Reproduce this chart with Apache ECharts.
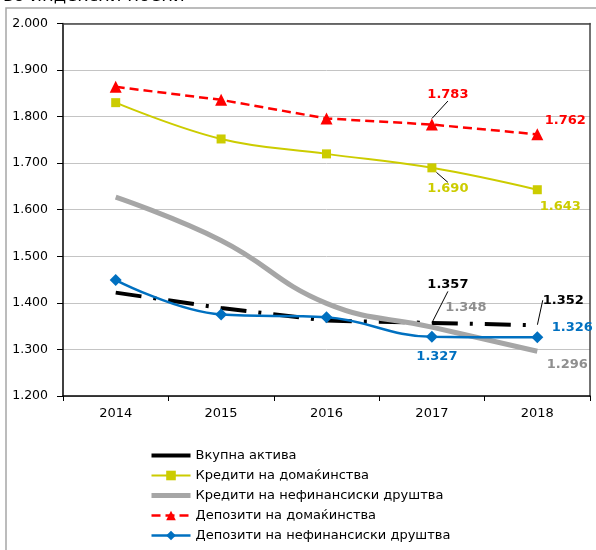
<!DOCTYPE html>
<html>
<head>
<meta charset="utf-8">
<script src="https://cdn.jsdelivr.net/npm/echarts@6/dist/echarts.min.js"></script>
<style>
  html, body { margin: 0; padding: 0; background: #fff; }
  #chart { width: 596px; height: 550px; }
</style>
</head>
<body>
<div id="chart"></div>
<script>
// годишни вредности, во индексни поени (илјади)
const years = ['2014', '2015', '2016', '2017', '2018'];
const vkupnaAktiva = [1.422, 1.389, 1.362, 1.357, 1.352];
const kreditiDomak = [1.830, 1.752, 1.720, 1.690, 1.643];
const kreditiNefin = [1.627, 1.534, 1.399, 1.348, 1.296];
const depozitiDomak = [1.864, 1.836, 1.796, 1.783, 1.762];
const depozitiNefin = [1.449, 1.375, 1.369, 1.327, 1.326];
const yTicks = [1.2, 1.3, 1.4, 1.5, 1.6, 1.7, 1.8, 1.9, 2.0];

const labelFont = { fontFamily: 'DejaVu Sans', fontWeight: 'bold', fontSize: 13 };

// label shift [dx, dy] from the point, null = no label
function withLabels(values, color, shifts, guides) {
  const data = values.map((v, i) => {
    const s = shifts[i];
    if (!s) return v;
    return {
      value: v,
      label: Object.assign({
        show: true,
        position: 'inside',
        color: color,
        formatter: p => p.value.toFixed(3)
      }, labelFont),
      labelLine: { show: !!(guides && guides[i]), lineStyle: { color: '#000', width: 1 } }
    };
  });
  return {
    data: data,
    labelLayout: p => {
      const s = shifts[p.dataIndex];
      return s ? { dx: s[0], dy: s[1] } : {};
    }
  };
}

const aktivaL = withLabels(vkupnaAktiva, '#000', [null, null, null, [16, -38], [26, -25]], [0, 0, 0, 1, 1]);
const kredDomL = withLabels(kreditiDomak, '#cccc00', [null, null, null, [16, 21], [23, 17]], [0, 0, 0, 1, 0]);
const kredNefL = withLabels(kreditiNefin, '#8f8f8f', [null, null, null, [34, -19], [30, 13]]);
const depDomL = withLabels(depozitiDomak, '#ff0000', [null, null, null, [16, -30], [28, -14]], [0, 0, 0, 1, 0]);
const depNefL = withLabels(depozitiNefin, '#0070c0', [null, null, null, [5, 20], [35, -10]]);

const chart = echarts.init(document.getElementById('chart'));

const option = {
  animation: false,
  graphic: [
    {
      type: 'rect',
      shape: { x: 6, y: 8, width: 700, height: 700 },
      style: { fill: 'none', stroke: '#a6a6a6', lineWidth: 1.5 },
      silent: true
    },
    {
      type: 'text',
      x: 3, y: 5,
      style: {
        text: 'во индексни поени',
        font: '18px "DejaVu Sans"',
        fill: '#000',
        verticalAlign: 'bottom'
      }
    }
  ],
  grid: {
    left: 63, right: 6, top: 23.5, bottom: 154
  },
  legend: {
    orient: 'vertical',
    left: 144, top: 444, height: 120,
    itemWidth: 39, itemHeight: 12, itemGap: 7,
    textStyle: { fontFamily: 'DejaVu Sans', fontSize: 13, color: '#000' },
    data: [
      { name: 'Вкупна актива', lineStyle: { type: 'solid', width: 4 } },
      { name: 'Кредити на домаќинства', lineStyle: { width: 2 } },
      { name: 'Кредити на нефинансиски друштва', lineStyle: { width: 5 } },
      { name: 'Депозити на домаќинства', lineStyle: { width: 2.5 } },
      { name: 'Депозити на нефинансиски друштва', lineStyle: { width: 2.5 } }
    ]
  },
  xAxis: [
    {
      type: 'category',
      data: years,
      boundaryGap: true,
      axisLine: { lineStyle: { color: '#000', width: 1.5 } },
      axisTick: { show: true, length: 5, lineStyle: { color: '#000' } },
      axisLabel: { margin: 11, fontFamily: 'DejaVu Sans', fontSize: 13, color: '#000' }
    },
    {
      type: 'category',
      data: years,
      position: 'top',
      axisLine: { show: true, lineStyle: { color: '#444', width: 1.5 } },
      axisTick: { show: false },
      axisLabel: { show: false }
    }
  ],
  yAxis: [
    {
      type: 'value',
      min: yTicks[0], max: yTicks[yTicks.length - 1], interval: 0.1,
      axisLine: { show: true, lineStyle: { color: '#000', width: 1.5 } },
      axisTick: { show: true, length: 6, lineStyle: { color: '#000' } },
      axisLabel: {
        margin: 15, fontFamily: 'DejaVu Sans', fontSize: 12.5, color: '#000',
        formatter: v => v.toFixed(3)
      },
      splitLine: { lineStyle: { color: '#c4c4c4', width: 1 } }
    },
    {
      type: 'value',
      position: 'right',
      min: yTicks[0], max: yTicks[yTicks.length - 1], interval: 0.1,
      axisLine: { show: true, lineStyle: { color: '#444', width: 1.5 } },
      axisTick: { show: false },
      axisLabel: { show: false },
      splitLine: { show: false }
    }
  ],
  series: [
    {
      name: 'Вкупна актива',
      type: 'line',
      symbol: 'circle', symbolSize: 1,
      lineStyle: { color: '#000', width: 4, type: [26, 12, 3, 12] },
      itemStyle: { color: 'rgba(0,0,0,0)' },
      data: aktivaL.data,
      labelLayout: aktivaL.labelLayout
    },
    {
      name: 'Кредити на домаќинства',
      type: 'line',
      smooth: 0.4,
      symbol: 'rect', symbolSize: 9,
      lineStyle: { color: '#cccc00', width: 2 },
      itemStyle: { color: '#cccc00' },
      data: kredDomL.data,
      labelLayout: kredDomL.labelLayout
    },
    {
      name: 'Кредити на нефинансиски друштва',
      type: 'line',
      smooth: 0.45,
      symbol: 'circle', symbolSize: 1,
      lineStyle: { color: '#a6a6a6', width: 5 },
      itemStyle: { color: 'rgba(0,0,0,0)' },
      data: kredNefL.data,
      labelLayout: kredNefL.labelLayout
    },
    {
      name: 'Депозити на домаќинства',
      type: 'line',
      symbol: 'triangle', symbolSize: 12,
      lineStyle: { color: '#ff0000', width: 2.5, type: [9, 5] },
      itemStyle: { color: '#ff0000' },
      data: depDomL.data,
      labelLayout: depDomL.labelLayout
    },
    {
      name: 'Депозити на нефинансиски друштва',
      type: 'line',
      smooth: 0.4,
      symbol: 'diamond', symbolSize: 12,
      lineStyle: { color: '#0070c0', width: 2.5 },
      itemStyle: { color: '#0070c0' },
      data: depNefL.data,
      labelLayout: depNefL.labelLayout
    }
  ]
};

chart.setOption(option);
</script>
</body>
</html>
